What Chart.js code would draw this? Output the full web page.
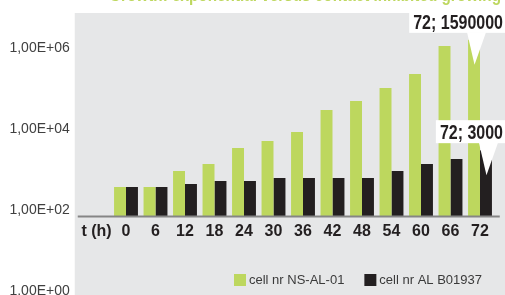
<!DOCTYPE html>
<html>
<head>
<meta charset="utf-8">
<script src="https://cdn.jsdelivr.net/npm/chart.js@4.4.1/dist/chart.umd.min.js"></script>
<style>
  html, body { margin: 0; padding: 0; background: #fff; overflow: hidden; }
  #wrap { position: relative; width: 505px; height: 302px; }
</style>
</head>
<body>
<div id="wrap"><canvas id="myChart"></canvas></div>
<script>
// data
const hours = ['t (h)', '0', '6', '12', '18', '24', '30', '36', '42', '48', '54', '60', '66', '72'];
const cellsNsAl01 = [null, 370, 370, 920, 1370, 3400, 5060, 8440, 29400, 49100, 103000, 228000, 1120000, 1590000];
const cellsAlB01937 = [null, 370, 370, 440, 520, 520, 617, 617, 617, 617, 920, 1370, 1820, 3000];
const seriesNames = ['cell nr NS-AL-01', 'cell nr AL B01937'];
const yTicks = [1, 100, 10000, 1000000];
const titleText = 'Growth: exponential versus contact inhibited growing';

const green = '#bdd75e';
const black = '#231f20';
const axisCross = 69;   // where the time axis crosses the log axis
const fontFam = '"Liberation Sans", Arial, sans-serif';

// 1,00E+06 style labels
function sci(v) {
  const e = Math.floor(Math.log10(v) + 1e-9);
  const m = (v / Math.pow(10, e)).toFixed(2).replace('.', ',');
  return m + 'E' + (e < 0 ? '-' : '+') + String(Math.abs(e)).padStart(2, '0');
}

// condensed text: squeeze horizontally, anchored at the right end
function narrowText(ctx, text, right, y, squeeze) {
  ctx.save();
  ctx.translate(right, y);
  ctx.scale(squeeze, 1);
  ctx.textAlign = 'right';
  ctx.textBaseline = 'alphabetic';
  ctx.fillText(text, 0, 0);
  ctx.restore();
}

const decor = {
  id: 'decor',
  beforeDraw(chart) {
    const {ctx, chartArea} = chart;
    ctx.save();
    // grey plot area
    ctx.fillStyle = '#e6e7e8';
    ctx.fillRect(chartArea.left - 7, chartArea.top + 5.5, chart.width, chart.height);
    // title, mostly cut off above the picture
    ctx.fillStyle = green;
    ctx.font = 'bold 18px ' + fontFam;
    narrowText(ctx, titleText, chart.width - 4, 1, 0.85);
    ctx.restore();
  },
  afterDatasetsDraw(chart) {
    const {ctx, chartArea} = chart;
    const y0 = chart.scales.y.getPixelForValue(axisCross);
    ctx.save();
    // time axis line
    ctx.strokeStyle = '#858585';
    ctx.lineWidth = 2;
    ctx.beginPath();
    ctx.moveTo(chartArea.left - 4, y0);
    ctx.lineTo(chartArea.right + 5, y0);
    ctx.stroke();

    // callouts on the last bar of each series
    ctx.font = 'bold 19.5px ' + fontFam;
    chart.data.datasets.forEach((ds, i) => {
      const last = ds.data.length - 1;
      const bar = chart.getDatasetMeta(i).data[last];
      const text = hours[last] + '; ' + ds.data[last];
      const tw = ctx.measureText(text).width * 0.82;
      const right = chart.width - 2;
      const boxBottom = bar.y - 7;
      const boxLeft = right - tw - 4;
      ctx.fillStyle = '#fff';
      ctx.fillRect(boxLeft, boxBottom - 23, chart.width - boxLeft, 23);
      ctx.beginPath();
      ctx.moveTo(bar.x - 7, boxBottom - 0.5);
      ctx.lineTo(bar.x + 12, boxBottom - 0.5);
      ctx.lineTo(bar.x + 0.5, bar.y + 25);
      ctx.closePath();
      ctx.fill();
      ctx.fillStyle = black;
      narrowText(ctx, text, right, bar.y - 11, 0.82);
    });
    ctx.restore();
  },
  afterDraw(chart) {
    const {ctx, chartArea} = chart;
    ctx.save();
    ctx.font = '13px ' + fontFam;
    ctx.textAlign = 'left';
    ctx.textBaseline = 'middle';
    let lx = 234;
    const ly = chartArea.bottom - 11;
    chart.data.datasets.forEach(ds => {
      ctx.fillStyle = ds.backgroundColor;
      ctx.fillRect(lx, ly - 6, 12, 12);
      ctx.fillStyle = '#3a3a3a';
      ctx.fillText(ds.label, lx + 15, ly + 0.5);
      lx += 15 + ctx.measureText(ds.label).width + 20;
    });
    ctx.restore();
  }
};

const myChart = document.querySelector('#myChart').getContext('2d');

const chart = new Chart(myChart, {
  type: 'bar',
  data: {
    labels: hours,
    datasets: [
      {
        label: seriesNames[0],
        data: cellsNsAl01,
        backgroundColor: green,
        base: axisCross,
        barPercentage: 1,
        categoryPercentage: 0.81
      },
      {
        label: seriesNames[1],
        data: cellsAlB01937,
        backgroundColor: black,
        base: axisCross,
        barPercentage: 1,
        categoryPercentage: 0.81
      }
    ]
  },
  options: {
    responsive: true,
    maintainAspectRatio: false,
    animation: false,
    devicePixelRatio: 1,
    layout: { padding: { top: 7.5, right: 10.25, bottom: 11, left: 0 } },
    plugins: {
      legend: { display: false },
      tooltip: { enabled: false },
      title: { display: false }
    },
    scales: {
      x: {
        type: 'category',
        position: { y: axisCross },
        grid: { display: false, drawTicks: false },
        border: { display: false },
        ticks: {
          color: black,
          font: { family: fontFam, size: 16, weight: 'bold' },
          padding: 5,
          autoSkip: false,
          maxRotation: 0
        }
      },
      y: {
        type: 'logarithmic',
        min: 1,
        max: 1e7,
        grid: { display: false, drawTicks: false },
        border: { display: false },
        afterBuildTicks: s => { s.ticks = yTicks.map(v => ({ value: v })); },
        afterFit: s => {
          s.width = 81.75;
          s.paddingTop = 0;
          s.paddingBottom = 0;
        },
        ticks: {
          color: '#404040',
          font: { family: fontFam, size: 14, lineHeight: 1 },
          padding: 12,
          callback: v => sci(v)
        }
      }
    }
  },
  plugins: [decor]
});
</script>
</body>
</html>
